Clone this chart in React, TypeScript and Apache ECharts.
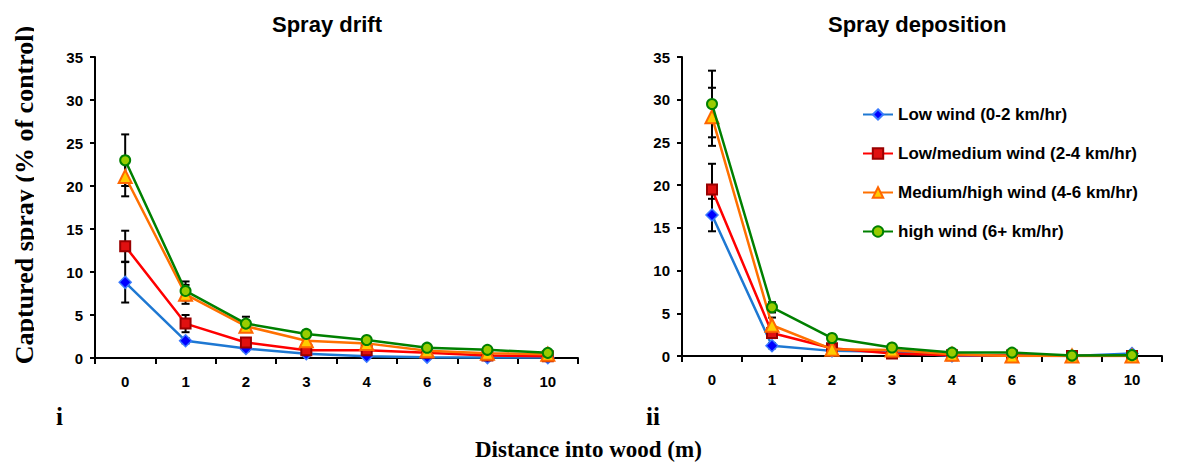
import React, { useEffect, useRef } from "react";
import * as echarts from "echarts";

const categories = ["0", "1", "2", "3", "4", "6", "8", "10"];
const seriesNames = [
  "Low wind (0-2 km/hr)",
  "Low/medium wind (2-4 km/hr)",
  "Medium/high wind (4-6 km/hr)",
  "high wind (6+ km/hr)",
];
const yTicks = { min: 0, max: 35, interval: 5 };

// Spray drift (panel i)
const driftLow = [8.8, 2.0, 1.1, 0.5, 0.2, 0.1, 0.05, 0.05];
const driftLowMed = [13.0, 4.0, 1.8, 0.9, 0.9, 0.6, 0.3, 0.2];
const driftMedHigh = [21.1, 7.4, 3.7, 2.0, 1.7, 0.85, 0.55, 0.45];
const driftHigh = [23.0, 7.8, 4.0, 2.8, 2.1, 1.2, 0.95, 0.6];
const driftLowErr = [2.35, 0.3, 0.3, 0.2, 0.1, 0.1, 0.05, 0.05];
const driftLowMedErr = [1.8, 1.0, 0.4, 0.3, 0.3, 0.2, 0.1, 0.1];
const driftMedHighErr = [2.3, 1.1, 0.5, 0.4, 0.4, 0.3, 0.2, 0.2];
const driftHighErr = [3.0, 1.1, 0.8, 0.4, 0.3, 0.3, 0.2, 0.2];

// Spray deposition (panel ii)
const depLow = [16.5, 1.2, 0.6, 0.5, 0.0, 0.05, 0.0, 0.3];
const depLowMed = [19.5, 2.7, 0.9, 0.3, 0.1, 0.05, 0.0, 0.0];
const depMedHigh = [28.0, 3.6, 0.8, 0.7, 0.2, 0.0, 0.0, 0.0];
const depHigh = [29.5, 5.7, 2.1, 1.0, 0.4, 0.4, 0.05, 0.1];
const depLowErr = [1.9, 0.3, 0.2, 0.2, 0.1, 0.05, 0.05, 0.1];
const depLowMedErr = [3.0, 0.6, 0.5, 0.3, 0.1, 0.05, 0.05, 0.05];
const depMedHighErr = [3.4, 0.9, 0.3, 0.3, 0.2, 0.1, 0.05, 0.05];
const depHighErr = [3.9, 0.6, 0.4, 0.3, 0.2, 0.1, 0.05, 0.1];

const SANS = "'Liberation Sans', Arial, sans-serif";
const SERIF = "'Liberation Serif', 'Times New Roman', serif";

const styles = [
  { line: "#1E78D2", symbol: "diamond", size: 12, fill: "#0000FF", border: "#3A7BFF", bw: 1.5 },
  { line: "#FF0000", symbol: "rect", size: 10, fill: "#E01010", border: "#990000", bw: 2 },
  { line: "#FF7000", symbol: "triangle", size: 13, fill: "#FFCC00", border: "#FF6600", bw: 2 },
  { line: "#008000", symbol: "circle", size: 10, fill: "#99CC00", border: "#008000", bw: 2 },
];

export default function App() {
  const ref = useRef<HTMLDivElement>(null);
  useEffect(() => {
    if (!ref.current) return;
    const chart = echarts.init(ref.current, null, { renderer: "svg" });

    const panels = [
      { vals: [driftLow, driftLowMed, driftMedHigh, driftHigh], errs: [driftLowErr, driftLowMedErr, driftMedHighErr, driftHighErr] },
      { vals: [depLow, depLowMed, depMedHigh, depHigh], errs: [depLowErr, depLowMedErr, depMedHighErr, depHighErr] },
    ];

    const axisLine = { show: true, lineStyle: { color: "#000", width: 2 } };
    const axisTick = { show: true, length: 6, lineStyle: { color: "#000", width: 2 } };
    const labelStyle = { color: "#000", fontWeight: "bold" as const, fontSize: 15, fontFamily: SANS };

    const series: any[] = [];
    panels.forEach((p, gi) => {
      const errData: any[] = [];
      p.vals.forEach((vals, si) => {
        vals.forEach((v, ci) => errData.push([ci, v, p.errs[si][ci]]));
      });
      series.push({
        type: "custom",
        xAxisIndex: gi,
        yAxisIndex: gi,
        z: 1,
        silent: true,
        encode: { x: 0, y: 1 },
        data: errData,
        renderItem: (params: any, api: any) => {
          const x = api.value(0);
          const y = api.value(1);
          const e = api.value(2);
          const top = api.coord([x, y + e]);
          const bot = api.coord([x, Math.max(0, y - e)]);
          const c = 4;
          const st = { stroke: "#000", lineWidth: 2 };
          return {
            type: "group",
            children: [
              { type: "line", shape: { x1: top[0], y1: top[1], x2: bot[0], y2: bot[1] }, style: st },
              { type: "line", shape: { x1: top[0] - c, y1: top[1], x2: top[0] + c, y2: top[1] }, style: st },
              { type: "line", shape: { x1: bot[0] - c, y1: bot[1], x2: bot[0] + c, y2: bot[1] }, style: st },
            ],
          };
        },
      });
      p.vals.forEach((vals, si) => {
        const s = styles[si];
        series.push({
          type: "line",
          name: seriesNames[si],
          xAxisIndex: gi,
          yAxisIndex: gi,
          z: 2 + si,
          data: vals,
          symbol: s.symbol,
          symbolSize: s.size,
          showAllSymbol: true,
          lineStyle: { color: s.line, width: 2.5 },
          itemStyle: { color: s.fill, borderColor: s.border, borderWidth: s.bw },
        });
      });
    });

    const option: any = {
      animation: false,
      backgroundColor: "#fff",
      grid: [
        { left: 95, top: 57, width: 483, height: 301 },
        { left: 682, top: 57, width: 480, height: 299 },
      ],
      xAxis: [0, 1].map((i) => ({
        type: "category",
        gridIndex: i,
        data: categories,
        boundaryGap: true,
        axisLine,
        axisTick,
        axisLabel: { ...labelStyle, margin: 16 },
        splitLine: { show: false },
      })),
      yAxis: [0, 1].map((i) => ({
        type: "value",
        gridIndex: i,
        min: yTicks.min,
        max: yTicks.max,
        interval: yTicks.interval,
        axisLine,
        axisTick: { ...axisTick, length: 5 },
        axisLabel: { ...labelStyle, margin: 12 },
        splitLine: { show: false },
      })),
      legend: {
        show: true,
        data: seriesNames,
        orient: "vertical",
        left: 857,
        top: 101,
        itemWidth: 30,
        itemHeight: 13,
        itemGap: 22,
        selectedMode: false,
        textStyle: { color: "#000", fontWeight: "bold", fontSize: 17, fontFamily: SANS },
      },
      graphic: [
        { type: "text", left: 272, top: 13, style: { text: "Spray drift", fontFamily: SANS, fontWeight: "bold", fontSize: 22, fill: "#000" } },
        { type: "text", left: 828, top: 13, style: { text: "Spray deposition", fontFamily: SANS, fontWeight: "bold", fontSize: 22, fill: "#000" } },
        {
          type: "text",
          x: 24,
          y: 195,
          rotation: Math.PI / 2,
          style: { text: "Captured spray (% of control)", fontFamily: SERIF, fontWeight: "bold", fontSize: 26, fill: "#000", align: "center", verticalAlign: "middle" },
        },
        { type: "rect", shape: { x: 34, y: 0, width: 10, height: 400 }, style: { fill: "#fff" }, z: 100 },
        { type: "text", left: 56, top: 404, style: { text: "i", fontFamily: SERIF, fontWeight: "bold", fontSize: 25, fill: "#000" } },
        { type: "text", left: 646, top: 404, style: { text: "ii", fontFamily: SERIF, fontWeight: "bold", fontSize: 25, fill: "#000" } },
        { type: "text", left: 475, top: 438, style: { text: "Distance into wood (m)", fontFamily: SERIF, fontWeight: "bold", fontSize: 23, fill: "#000" } },
      ],
      series,
    };
    chart.setOption(option);
    return () => chart.dispose();
  }, []);
  return <div ref={ref} style={{ position: "absolute", left: 0, top: 0, width: 1177, height: 468 }} />;
}
